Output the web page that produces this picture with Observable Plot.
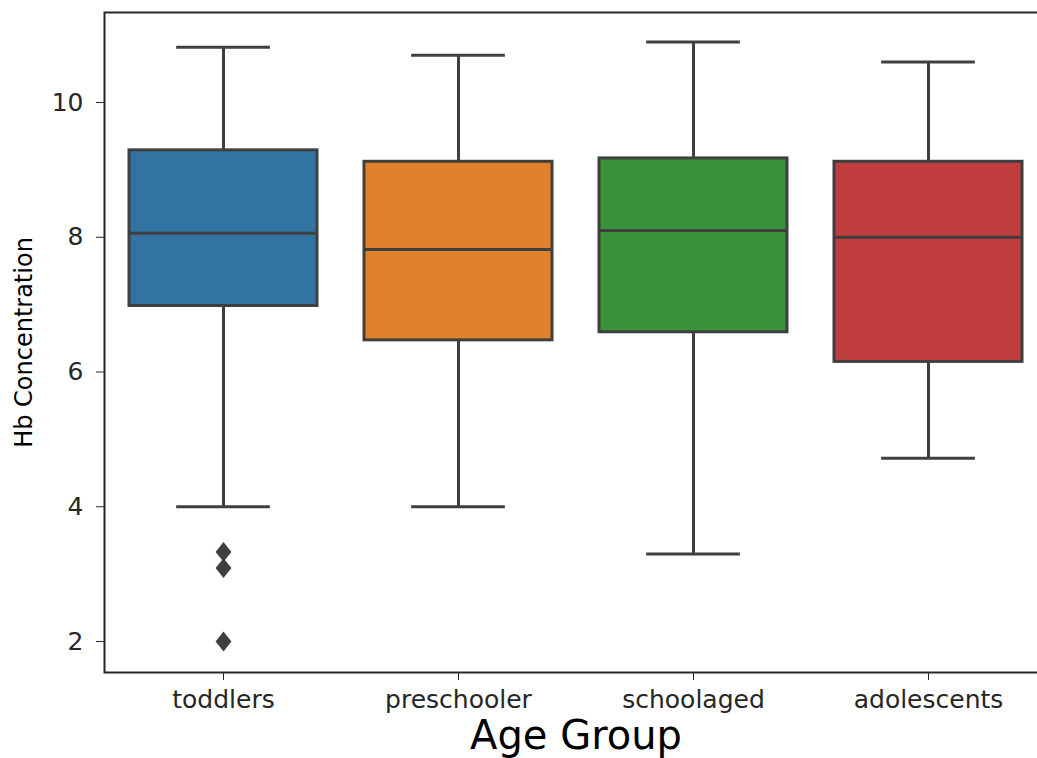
<!DOCTYPE html>
<html>
<head>
<meta charset="utf-8">
<script src="https://cdn.jsdelivr.net/npm/d3@7"></script>
<script src="https://cdn.jsdelivr.net/npm/@observablehq/plot@0.6"></script>
<style>
  html, body { margin: 0; padding: 0; background: #fff; }
  #chart svg { display: block; }
</style>
</head>
<body>
<div id="chart"></div>
<script>
// ---- data ----
const categories   = ["toddlers", "preschooler", "schoolaged", "adolescents"];
const lowWhisker   = [4.0, 4.0, 3.3, 4.72];
const q1           = [6.98, 6.47, 6.59, 6.15];
const median       = [8.06, 7.82, 8.1, 8.0];
const q3           = [9.29, 9.12, 9.17, 9.12];
const highWhisker  = [10.82, 10.7, 10.9, 10.6];
const boxColors    = ["#3274a1", "#e1812c", "#3a923a", "#c03d3e"];
const outlierGroup = ["toddlers", "toddlers", "toddlers"];
const outlierValue = [3.33, 3.09, 2.0];
const yTicks       = [2, 4, 6, 8, 10];
const yDomain      = [1.54, 11.336];

const stats = categories.map((c, i) => ({
  group: c, lo: lowWhisker[i], q1: q1[i], med: median[i], q3: q3[i], hi: highWhisker[i]
}));
const outliers = outlierGroup.map((g, i) => ({group: g, value: outlierValue[i]}));

const lineColor = "#3f3f3f";
const W = 1037, H = 758;
const mL = 104, mT = 12, mB = 86, mR = -10;
const step = (W - mR - mL) / categories.length;
const bandwidth = step * 0.8;

// thin diamond like matplotlib "d"
const thinDiamond = {
  draw(context, size) {
    const h = Math.sqrt(size) * 0.62;
    const w = h * 0.8;
    context.moveTo(0, -h);
    context.lineTo(w, 0);
    context.lineTo(0, h);
    context.lineTo(-w, 0);
    context.closePath();
  }
};

const chart = Plot.plot({
  width: W,
  height: H,
  marginLeft: mL,
  marginTop: mT,
  marginBottom: mB,
  marginRight: mR,
  style: {fontFamily: "DejaVu Sans", fontSize: "25px", color: "#262626", background: "#fff"},
  x: {domain: categories, paddingInner: 0.2, paddingOuter: 0.1, label: null, tickSize: 8, tickPadding: 10},
  y: {domain: yDomain, ticks: yTicks, label: null, tickSize: 8, tickPadding: 13},
  color: {domain: categories, range: boxColors},
  marks: [
    Plot.ruleX(stats, {x: "group", y1: "lo", y2: "q1", stroke: lineColor, strokeWidth: 3}),
    Plot.ruleX(stats, {x: "group", y1: "q3", y2: "hi", stroke: lineColor, strokeWidth: 3}),
    Plot.tickY(stats, {x: "group", y: "lo", stroke: lineColor, strokeWidth: 3, insetLeft: bandwidth / 4, insetRight: bandwidth / 4}),
    Plot.tickY(stats, {x: "group", y: "hi", stroke: lineColor, strokeWidth: 3, insetLeft: bandwidth / 4, insetRight: bandwidth / 4}),
    Plot.barY(stats, {x: "group", y1: "q1", y2: "q3", fill: "group", stroke: lineColor, strokeWidth: 3}),
    Plot.tickY(stats, {x: "group", y: "med", stroke: lineColor, strokeWidth: 3}),
    Plot.dot(outliers, {x: "group", y: "value", symbol: thinDiamond, r: 9, fill: lineColor, stroke: "none"}),
    Plot.frame({stroke: "#262626", strokeWidth: 2}),
    Plot.text(["Age Group"], {frameAnchor: "bottom", dy: 76, lineAnchor: "bottom", fontSize: 40, fill: "#000"}),
    Plot.text(["Hb Concentration"], {frameAnchor: "left", textAnchor: "middle", dx: -80, rotate: -90, fontSize: 24, fill: "#000"})
  ]
});
document.getElementById("chart").appendChild(chart);
</script>
</body>
</html>
